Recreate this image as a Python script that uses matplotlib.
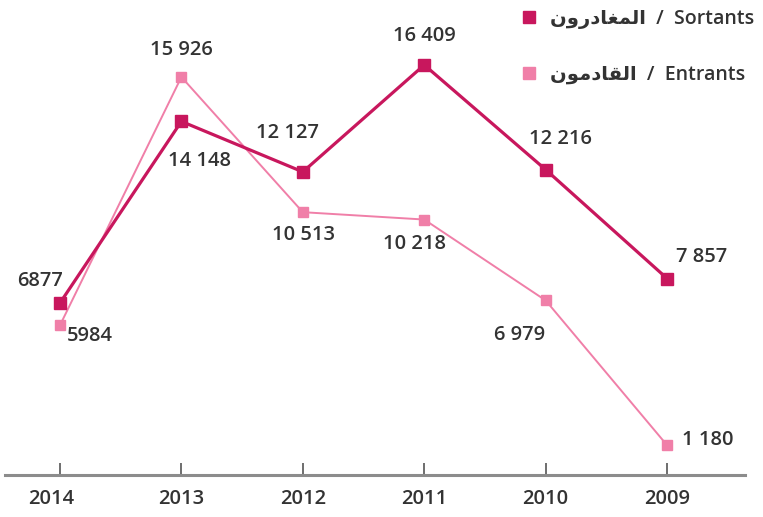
import matplotlib.pyplot as plt
from matplotlib.lines import Line2D
import matplotlib.transforms as mtransforms

# données
years = ["2014", "2013", "2012", "2011", "2010", "2009"]
sortants = [6877, 14148, 12127, 16409, 12216, 7857]
entrants = [5984, 15926, 10513, 10218, 6979, 1180]
sortants_labels = ["6877", "14 148", "12 127", "16 409", "12 216", "7 857"]
entrants_labels = ["5984", "15 926", "10 513", "10 218", "6 979", "1 180"]

# arabe en formes de présentation, ordre visuel (matplotlib ne fait pas le shaping)
ar_sortants = "\uFEE5\uFEED\uFEAD\uFEA9\uFE8E\uFED0\uFEE4\uFEDF\uFE8D"   # المغادرون
ar_entrants = "\uFEE5\uFEEE\uFEE3\uFEA9\uFE8E\uFED8\uFEDF\uFE8D"        # القادمون
legend_labels = [ar_sortants + "  /  Sortants", ar_entrants + "  /  Entrants"]

dark = "#c8175d"
pink = "#f07fa8"
txt = "#333333"
fams = ["Open Sans", "DejaVu Sans"]

plt.rcParams["font.family"] = fams

fig = plt.figure(figsize=(7.63, 5.17), dpi=100)
ax = fig.add_axes([0, 0, 1, 1])
x = list(range(len(years)))

ax.plot(x, entrants, color=pink, lw=1.4, marker="s", ms=7, zorder=3)
ax.plot(x, sortants, color=dark, lw=2.3, marker="s", ms=8, zorder=4)

# étiquettes des valeurs (décalages en pixels)
s_off = [(-20, 22), (18, -40), (-15, 39), (0, 29), (15, 31), (35, 22)]
e_off = [(30, -11), (0, 27), (1, -23), (-10, -24), (-26, -35), (41, 5)]
for i in x:
    ax.annotate(sortants_labels[i], (x[i], sortants[i]), xytext=s_off[i],
                textcoords="offset pixels", ha="center", va="center",
                fontsize=14.5, fontweight="semibold", color=txt)
    ax.annotate(entrants_labels[i], (x[i], entrants[i]), xytext=e_off[i],
                textcoords="offset pixels", ha="center", va="center",
                fontsize=14.5, fontweight="semibold", color=txt)

ax.set_xlim(-0.494, 5.79)
ax.set_ylim(-1694, 19010)

for s in ["top", "left", "right"]:
    ax.spines[s].set_visible(False)
ax.spines["bottom"].set_position(("data", 0))
ax.spines["bottom"].set_bounds(-0.453, 5.64)
ax.spines["bottom"].set_color("#8c8c8c")
ax.spines["bottom"].set_linewidth(2.2)
ax.set_yticks([])
ax.set_xticks(x)
ax.set_xticklabels(years)
ax.tick_params(axis="x", direction="in", length=8.5, width=1.2, color="#555555",
               pad=10, labelsize=14.5, labelcolor=txt)
for t in ax.get_xticklabels():
    t.set_fontweight("semibold")
# "2014" est un peu décalé vers la gauche dans l'original
first = ax.get_xticklabels()[0]
first.set_transform(first.get_transform() +
                    mtransforms.ScaledTranslation(-9 / 100, 0, fig.dpi_scale_trans))

handles = [Line2D([], [], color=dark, marker="s", ls="none", ms=9),
           Line2D([], [], color=pink, marker="s", ls="none", ms=9)]
ax.legend(handles, legend_labels, loc="upper right", bbox_to_anchor=(1.0, 1.0),
          frameon=False, prop={"size": 14, "weight": "semibold", "family": fams},
          labelspacing=1.85, handletextpad=0.7, handlelength=0.8,
          borderaxespad=0.05, labelcolor=txt)

fig.savefig("out.png", dpi=100)
